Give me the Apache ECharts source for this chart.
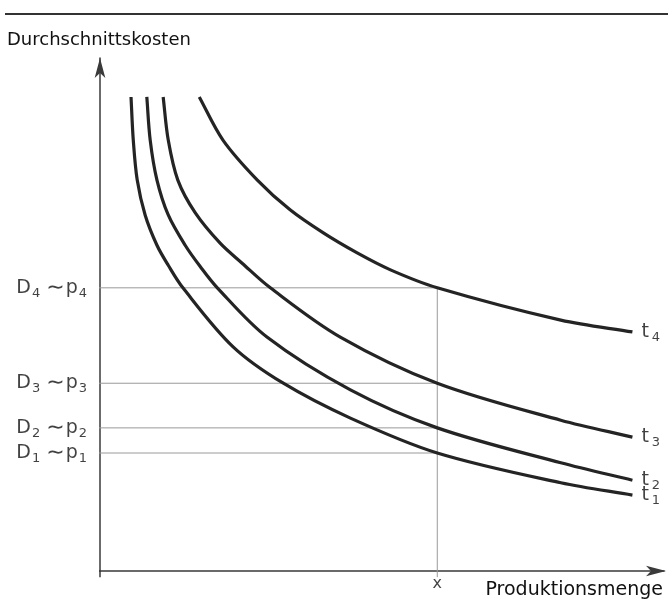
<!DOCTYPE html>
<html>
<head>
<meta charset="utf-8">
<script src="https://cdn.jsdelivr.net/npm/echarts@6/dist/echarts.min.js"></script>
<style>
html,body{margin:0;padding:0;background:#fff;}
#c{width:672px;height:604px;}
</style>
</head>
<body>
<div id="c"></div>
<script>
// ---- data ----
const curveNames = ['t1', 't2', 't3', 't4'];
const t1 = [[0.55,9.24],[0.59,8.40],[0.66,7.62],[0.80,6.94],[1.01,6.35],[1.21,5.96],[1.47,5.52],[2.36,4.37],[3.25,3.66],[4.44,2.98],[5.98,2.30],[8.17,1.72],[9.44,1.48]];
const t2 = [[0.83,9.24],[0.89,8.40],[1.01,7.62],[1.21,6.94],[1.51,6.35],[1.78,5.93],[2.08,5.52],[2.96,4.56],[4.44,3.53],[5.98,2.79],[8.17,2.11],[9.44,1.77]];
const t3 = [[1.12,9.24],[1.21,8.40],[1.38,7.62],[1.69,6.98],[2.13,6.39],[2.52,6.00],[3.02,5.52],[4.26,4.56],[5.98,3.66],[8.17,2.94],[9.44,2.61]];
const t4 = [[1.76,9.24],[2.18,8.40],[2.79,7.62],[3.37,7.04],[3.96,6.59],[4.56,6.20],[5.15,5.87],[5.98,5.52],[8.17,4.89],[9.44,4.66]];
const xQuantity = 5.98;                         // "x"
const priceLevels = [2.30, 2.79, 3.66, 5.52];   // D1~p1 .. D4~p4
const levelIdx = ['1', '2', '3', '4'];
const yTitle = 'Durchschnittskosten';
const xTitle = 'Produktionsmenge';
const xMark = 'x';

const curves = [t1, t2, t3, t4];
const ink = '#242424';
const thin = '#9a9a9a';
const txt = '#111';
const font = 'DejaVu Sans';

// smooth path through pixel points (chord-length parameterised cubic spline)
function smoothPath(pts) {
  const n = pts.length;
  const dist = (a, b) => Math.hypot(b[0] - a[0], b[1] - a[1]);
  const tang = [];
  for (let i = 0; i < n; i++) {
    if (i === 0) { const d = dist(pts[0], pts[1]); tang.push([(pts[1][0] - pts[0][0]) / d, (pts[1][1] - pts[0][1]) / d]); }
    else if (i === n - 1) { const d = dist(pts[n - 2], pts[n - 1]); tang.push([(pts[n - 1][0] - pts[n - 2][0]) / d, (pts[n - 1][1] - pts[n - 2][1]) / d]); }
    else {
      const d = dist(pts[i - 1], pts[i]) + dist(pts[i], pts[i + 1]);
      tang.push([(pts[i + 1][0] - pts[i - 1][0]) / d, (pts[i + 1][1] - pts[i - 1][1]) / d]);
    }
  }
  let s = 'M' + pts[0][0] + ',' + pts[0][1];
  for (let i = 0; i < n - 1; i++) {
    const h = dist(pts[i], pts[i + 1]) / 3;
    const c1 = [pts[i][0] + tang[i][0] * h, pts[i][1] + tang[i][1] * h];
    const c2 = [pts[i + 1][0] - tang[i + 1][0] * h, pts[i + 1][1] - tang[i + 1][1] * h];
    s += 'C' + c1[0] + ',' + c1[1] + ' ' + c2[0] + ',' + c2[1] + ' ' + pts[i + 1][0] + ',' + pts[i + 1][1];
  }
  return s;
}

const chart = echarts.init(document.getElementById('c'), null, {renderer: 'canvas'});

const series = [];
// guide lines (horizontal from left of axis to x, vertical at x)
priceLevels.forEach((L) => {
  series.push({
    type: 'line', data: [[-0.14, L], [xQuantity, L]], symbol: 'none', clip: false, silent: true,
    lineStyle: {color: thin, width: 1}, z: 1
  });
});
series.push({
  type: 'line', data: [[xQuantity, -0.12], [xQuantity, Math.max(...priceLevels)]], symbol: 'none', clip: false, silent: true,
  lineStyle: {color: thin, width: 1}, z: 1
});
// small overhang of axes at the origin
series.push({type: 'line', data: [[0, -0.12], [0, 0]], symbol: 'none', clip: false, lineStyle: {color: '#3a3a3a', width: 1.5}, z: 1});
series.push({type: 'line', data: [[-0.13, 0], [0, 0]], symbol: 'none', clip: false, lineStyle: {color: '#3a3a3a', width: 1.5}, z: 1});

const rich = {
  n: {fontFamily: font, fontSize: 19, color: txt},
  w: {fontFamily: font, fontSize: 22, color: txt, padding: [0, 1, 0, 0]},
  s: {fontFamily: font, fontSize: 13, color: txt, padding: [11, 0, 0, 1]}
};

// level labels at the y axis
series.push({
  type: 'scatter', symbolSize: 0, clip: false, silent: true,
  data: priceLevels.map((L, i) => ({value: [0, L], idx: levelIdx[i]})),
  label: {
    show: true, position: 'left', distance: 13, color: txt,
    formatter: p => '{n|D}{s|' + p.data.idx + '}{n| }{w|∼}{n|p}{s|' + p.data.idx + '}',
    rich: rich
  }
});
// x mark
series.push({
  type: 'scatter', symbolSize: 0, clip: false, silent: true,
  data: [[xQuantity, 0]],
  label: {show: true, position: 'bottom', distance: 5, formatter: xMark, fontFamily: font, fontSize: 16, color: txt}
});

// cost curves (custom series: points placed through the axes' scales)
series.push({
  type: 'custom', clip: false, z: 3, silent: true,
  data: curves.map((c, i) => [i]),
  renderItem: (params, api) => {
    const pts = curves[params.dataIndex].map(p => api.coord(p));
    return {type: 'path', shape: {pathData: smoothPath(pts)}, style: {stroke: ink, lineWidth: 3.2, fill: null}};
  }
});
// curve names at the right end
series.push({
  type: 'scatter', symbolSize: 0, clip: false, silent: true,
  data: curves.map((c, i) => ({value: c[c.length - 1], idx: String(i + 1)})),
  label: {
    show: true, position: 'right', distance: 9, color: txt,
    formatter: p => '{n|t}{s|' + p.data.idx + '}',
    rich: {
      n: {fontFamily: font, fontSize: 19, color: txt},
      s: {fontFamily: font, fontSize: 13, color: txt, padding: [11, 0, 0, 3]}
    }
  }
});

chart.setOption({
  animation: false,
  backgroundColor: '#fff',
  grid: {left: 100, right: 8, top: 58, bottom: 33, containLabel: false},
  xAxis: {
    type: 'value', min: 0, max: 10,
    axisLine: {show: true, lineStyle: {color: '#3a3a3a', width: 1.5}, symbol: ['none', 'arrow'], symbolSize: [8, 20], symbolOffset: [0, 2]},
    axisTick: {show: false}, axisLabel: {show: false}, splitLine: {show: false}
  },
  yAxis: {
    type: 'value', min: 0, max: 10,
    axisLine: {show: true, lineStyle: {color: '#3a3a3a', width: 1.5}, symbol: ['none', 'arrow'], symbolSize: [8, 20], symbolOffset: [0, 0]},
    axisTick: {show: false}, axisLabel: {show: false}, splitLine: {show: false}
  },
  graphic: [
    {type: 'line', shape: {x1: 5, y1: 14, x2: 668, y2: 14}, style: {stroke: '#333', lineWidth: 2}},
    {type: 'text', left: 7, top: 31, style: {text: yTitle, fontFamily: font, fontSize: 18, fill: txt}},
    {type: 'text', right: 9, top: 581, style: {text: xTitle, fontFamily: font, fontSize: 19, fill: txt}}
  ],
  series: series
});
</script>
</body>
</html>
